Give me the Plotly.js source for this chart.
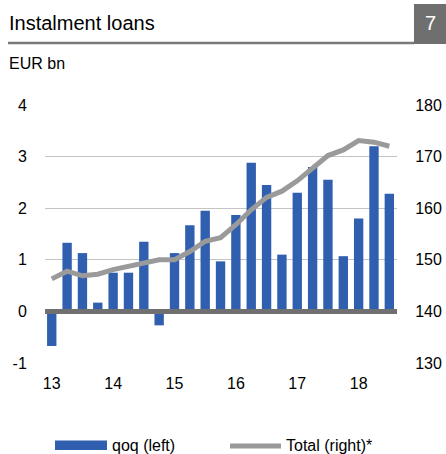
<!DOCTYPE html>
<html>
<head>
<meta charset="utf-8">
<script src="https://cdn.plot.ly/plotly-3.0.1.min.js"></script>
<style>
html,body{margin:0;padding:0;background:#fff;}
#chart{width:446px;height:454px;}
</style>
</head>
<body>
<div id="chart"></div>
<script>
// Quarters 2013Q1 .. 2018Q3
const quarters = ["2013Q1","2013Q2","2013Q3","2013Q4","2014Q1","2014Q2","2014Q3","2014Q4",
  "2015Q1","2015Q2","2015Q3","2015Q4","2016Q1","2016Q2","2016Q3","2016Q4",
  "2017Q1","2017Q2","2017Q3","2017Q4","2018Q1","2018Q2","2018Q3"];
// Quarter-on-quarter change, EUR bn (left axis)
const qoq = [-0.67, 1.33, 1.13, 0.17, 0.75, 0.75, 1.35, -0.27,
  1.13, 1.67, 1.95, 0.97, 1.87, 2.88, 2.45, 1.10,
  2.30, 2.80, 2.55, 1.07, 1.80, 3.20, 2.28];
// Total stock, EUR bn (right axis)
const total = [146.3, 147.8, 146.9, 147.2, 148.1, 148.7, 149.4, 150.0,
  150.0, 151.6, 153.6, 154.3, 156.8, 159.7, 162.1, 163.3,
  165.3, 167.8, 170.2, 171.3, 173.1, 172.8, 172.0];
const yearTickVals = ["2013Q1","2014Q1","2015Q1","2016Q1","2017Q1","2018Q1"];
const yearTickText = ["13","14","15","16","17","18"];
const leftTicks = [-1,0,1,2,3,4];
const leftTickText = ["-1","0","1","2","3","4"];
const rightTicks = [130,140,150,160,170,180];
const seriesNames = ["qoq (left)", "Total (right)*"];
const chartTitle = "Instalment loans";
const chartNumber = "7";
const unitLabel = "EUR bn";

const W = 446, H = 454;
const M = {l:45, r:49, t:105, b:91};
const pw = W - M.l - M.r, ph = H - M.t - M.b;
const px = x => (x - M.l) / pw;
const py = y => (H - M.b - y) / ph;

const BLUE = "#2f5fae";
const GREY = "#9a9a9a";
const FONT = '"Liberation Sans", Arial, sans-serif';

const traces = [
  {type:"bar", x:quarters, y:qoq, name:seriesNames[0], marker:{color:BLUE}, yaxis:"y", showlegend:false, hoverinfo:"skip"},
  {type:"scatter", mode:"lines", x:quarters, y:total, name:seriesNames[1], line:{color:GREY, width:5}, yaxis:"y2", showlegend:false, hoverinfo:"skip"}
];

const layout = {
  width:W, height:H,
  margin:M,
  paper_bgcolor:"#fff", plot_bgcolor:"#fff",
  font:{family:FONT, size:16, color:"#000"},
  bargap:0.39,
  showlegend:false,
  xaxis:{type:"category", range:[-0.44,22.5], tickmode:"array", tickvals:yearTickVals, ticktext:yearTickText,
    ticks:"outside", ticklen:6, tickcolor:"rgba(0,0,0,0)", showgrid:false, zeroline:false, showline:false,
    tickfont:{size:16}},
  yaxis:{range:[-1,4], tickmode:"array", tickvals:leftTicks, ticktext:leftTickText, ticks:"outside", ticklen:14, tickcolor:"rgba(0,0,0,0)",
    showgrid:true, gridcolor:"#c4c4c4", gridwidth:1, zeroline:false, showline:false, tickfont:{size:16}},
  yaxis2:{range:[130,180], overlaying:"y", side:"right", tickmode:"array", tickvals:rightTicks, ticks:"outside", ticklen:14,
    tickcolor:"rgba(0,0,0,0)", showgrid:false, zeroline:false, showline:false, tickfont:{size:16}},
  shapes:[
    // zero line
    {type:"line", xref:"paper", yref:"y", x0:0, x1:1, y0:0, y1:0, line:{color:"#707070", width:5}, layer:"above"},
    // title underline
    {type:"line", xref:"paper", yref:"paper", x0:px(8), x1:px(414), y0:py(43), y1:py(43), line:{color:"#7a7a7a", width:2.5}},
    // number box
    {type:"rect", xref:"paper", yref:"paper", x0:px(414), x1:px(446), y0:py(44), y1:py(4), fillcolor:"#6f6f6f", line:{width:0}},
    // legend swatches
    {type:"rect", xref:"paper", yref:"paper", x0:px(55), x1:px(107), y0:py(450), y1:py(440.5), fillcolor:BLUE, line:{width:0}},
    {type:"line", xref:"paper", yref:"paper", x0:px(230), x1:px(281), y0:py(446), y1:py(446), line:{color:GREY, width:5}}
  ],
  annotations:[
    {text:chartTitle, xref:"paper", yref:"paper", x:px(7), y:py(23), xanchor:"left", yanchor:"middle", showarrow:false, font:{size:20, color:"#000"}},
    {text:chartNumber, xref:"paper", yref:"paper", x:px(430), y:py(23), xanchor:"center", yanchor:"middle", showarrow:false, font:{size:20, color:"#fff"}},
    {text:unitLabel, xref:"paper", yref:"paper", x:px(7), y:py(64), xanchor:"left", yanchor:"middle", showarrow:false, font:{size:16, color:"#000"}},
    {text:seriesNames[0], xref:"paper", yref:"paper", x:px(110), y:py(445), xanchor:"left", yanchor:"middle", showarrow:false, font:{size:16, color:"#000"}},
    {text:seriesNames[1], xref:"paper", yref:"paper", x:px(284), y:py(445), xanchor:"left", yanchor:"middle", showarrow:false, font:{size:16, color:"#000"}}
  ]
};

Plotly.newPlot("chart", traces, layout, {staticPlot:true, displayModeBar:false});
</script>
</body>
</html>
